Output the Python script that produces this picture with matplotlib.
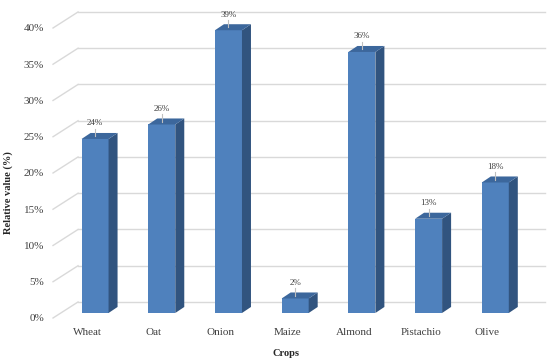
import matplotlib.pyplot as plt
from matplotlib.patches import Polygon
from matplotlib.ticker import PercentFormatter
import numpy as np

crops = ['Wheat', 'Oat', 'Onion', 'Maize', 'Almond', 'Pistachio', 'Olive']
values = [0.24, 0.26, 0.39, 0.02, 0.36, 0.13, 0.18]
labels = ['24%', '26%', '39%', '2%', '36%', '13%', '18%']
yticks = [0, 0.05, 0.10, 0.15, 0.20, 0.25, 0.30, 0.35, 0.40]

plt.rcParams['font.family'] = ['Liberation Serif', 'DejaVu Serif']

fig = plt.figure(figsize=(5.5, 3.64), dpi=100)
ax = fig.add_axes([0.0964, 0.1264, 0.849, 0.7967])
ax.set_xlim(-0.51, 6.49)
ax.set_ylim(0, 0.40)

# pseudo 3d depth offsets (data units)
bar_off = (0.12, 0.0069)     # front face of bars
bar_dep = (0.135, 0.0083)    # bar depth
wall_off = (0.375, 0.0221)   # back wall

x0, x1 = ax.get_xlim()
grid_c = '#D9D9D9'
for t in yticks:
    ax.plot([x0 + wall_off[0], x1 + wall_off[0]], [t + wall_off[1]] * 2,
            color=grid_c, lw=1, clip_on=False, zorder=1)
    ax.plot([x0, x0 + wall_off[0]], [t, t + wall_off[1]],
            color=grid_c, lw=1, clip_on=False, zorder=1)

pos = np.arange(len(crops))
w = 0.405
front = '#4F81BD'
side = '#31547F'
top = '#3C679C'
b = bar_off[1]
ax.bar(pos + bar_off[0], values, width=w, bottom=b, color=front,
       zorder=3, clip_on=False)
for i, v in enumerate(values):
    xl = i + bar_off[0] - w / 2
    xr = i + bar_off[0] + w / 2
    dx, dy = bar_dep
    ax.add_patch(Polygon([(xr, b), (xr, b + v), (xr + dx, b + v + dy), (xr + dx, b + dy)],
                         closed=True, fc=side, ec='none', zorder=3, clip_on=False))
    ax.add_patch(Polygon([(xl, b + v), (xr, b + v), (xr + dx, b + v + dy), (xl + dx, b + v + dy)],
                         closed=True, fc=top, ec='none', zorder=3, clip_on=False))
    cx = i + bar_off[0]
    ax.plot([cx, cx], [b + v + 0.004, b + v + 0.014], color='#BFBFBF', lw=0.8,
            zorder=4, clip_on=False)
    ax.text(cx, b + v + 0.0215, labels[i], ha='center', va='center', fontsize=6.5,
            color='#404040', zorder=5)

ax.set_xticks(pos)
ax.set_xticklabels(crops)
ax.set_yticks(yticks)
ax.yaxis.set_major_formatter(PercentFormatter(1.0, decimals=0))
ax.tick_params(axis='both', length=0, labelsize=8, colors='#404040')
ax.tick_params(axis='y', pad=6.5)
ax.tick_params(axis='x', pad=7)
for s in ax.spines.values():
    s.set_visible(False)

ax.set_xlabel('Crops', fontsize=7.5, fontweight='bold', color='#262626', labelpad=9)
ax.set_ylabel('Relative value (%)', fontsize=7.5, fontweight='bold', color='#262626',
              va='center')
ax.yaxis.set_label_coords(-0.096, 0.434)

fig.savefig('out.png', dpi=100)
